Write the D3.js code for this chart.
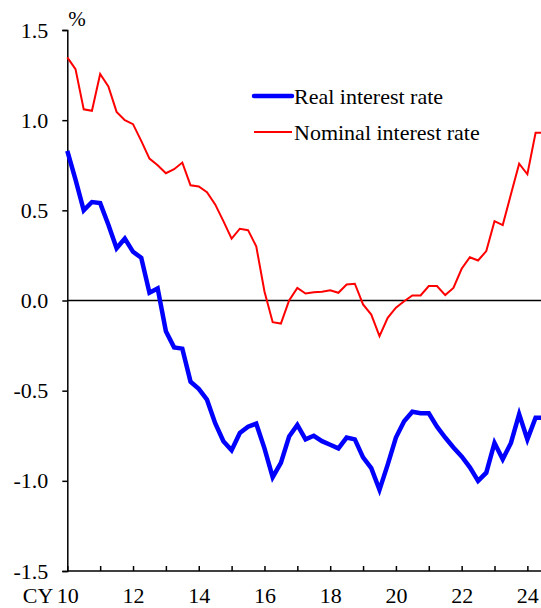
<!DOCTYPE html>
<html>
<head>
<meta charset="utf-8">
<script src="https://cdn.jsdelivr.net/npm/d3@7"></script>
<style>
  body { margin: 0; background: #fff; }
  svg { display: block; font-family: 'Liberation Serif', 'Times New Roman', serif; }
</style>
</head>
<body>
<script>
// quarterly values, CY2010 Q1 onwards
var realRate = [0.83, 0.67, 0.50, 0.546, 0.54, 0.42, 0.29, 0.344, 0.27, 0.237,
    0.043, 0.067, -0.17, -0.26, -0.267, -0.45, -0.49, -0.55, -0.68, -0.78,
    -0.83, -0.735, -0.70, -0.683, -0.82, -0.98, -0.90, -0.754, -0.69, -0.77,
    -0.75, -0.78, -0.80, -0.82, -0.76, -0.77, -0.87, -0.93, -1.05, -0.91,
    -0.76, -0.67, -0.617, -0.625, -0.625, -0.70, -0.76, -0.815, -0.865, -0.925,
    -1.0, -0.955, -0.79, -0.88, -0.79, -0.63, -0.77, -0.65, -0.65];
var nominalRate = [1.348, 1.283, 1.06, 1.052, 1.256, 1.187, 1.046, 1.0, 0.978, 0.885,
    0.787, 0.75, 0.706, 0.728, 0.765, 0.639, 0.632, 0.60, 0.533, 0.44,
    0.343, 0.398, 0.39, 0.30, 0.05, -0.12, -0.128, 0.0, 0.07, 0.039,
    0.046, 0.048, 0.057, 0.043, 0.089, 0.093, -0.022, -0.078, -0.198, -0.096,
    -0.04, -0.004, 0.028, 0.028, 0.08, 0.08, 0.03, 0.07, 0.176, 0.24,
    0.222, 0.274, 0.44, 0.418, 0.589, 0.759, 0.70, 0.93, 0.93];
var yTicks = [-1.5, -1.0, -0.5, 0.0, 0.5, 1.0, 1.5];
var xLabels = [10, 12, 14, 16, 18, 20, 22, 24];
var series = [
    { name: 'Real interest rate', values: realRate, color: '#0000ff', width: 4.5 },
    { name: 'Nominal interest rate', values: nominalRate, color: '#ff0000', width: 2 }
];

var width = 541,
    height = 608,
    fontSize = 22;

var x = d3.scaleLinear().domain([10, 24.5]).range([67.3, 543.8]);
var y = d3.scaleLinear().domain([-1.5, 1.5]).range([571, 30]);

var svg = d3.select('body').append('svg')
    .attr('width', width)
    .attr('height', height);

// y axis
var yAxis = svg.append('g')
    .attr('transform', 'translate(' + x(10) + ',0)')
    .call(d3.axisLeft(y).tickValues(yTicks).tickSize(5).tickPadding(14)
        .tickFormat(function (d) { return d3.format('.1f')(d).replace('−', '-'); }));

// x axis, ticks every year pointing up
var xAxis = svg.append('g')
    .attr('transform', 'translate(0,' + y(-1.5) + ')')
    .call(d3.axisBottom(x).tickValues(d3.range(10, 25, 1)).tickSize(-5).tickPadding(0)
        .tickFormat(function (d) { return xLabels.indexOf(d) >= 0 ? d : ''; }));

xAxis.selectAll('text').attr('y', 31.5).attr('dy', 0);

[yAxis, xAxis].forEach(function (ax) {
    ax.select('.domain').attr('stroke', '#000').attr('stroke-width', 1.5);
    ax.selectAll('.tick line').attr('stroke', '#000').attr('stroke-width', 1.5);
    ax.selectAll('text')
        .attr('fill', '#000')
        .style('font-family', "'Liberation Serif', 'Times New Roman', serif")
        .style('font-size', fontSize + 'px');
});
xAxis.select('.domain').attr('d', 'M' + x(10) + ',0H' + width);

svg.append('text')
    .attr('x', x(10) - 14)
    .attr('y', y(-1.5) + 31.5)
    .attr('text-anchor', 'end')
    .style('font-size', fontSize + 'px')
    .text('CY');

svg.append('text')
    .attr('x', x(10) + 1)
    .attr('y', 26)
    .style('font-size', '21px')
    .text('%');

// zero line
svg.append('line')
    .attr('x1', x(10)).attr('x2', width)
    .attr('y1', y(0)).attr('y2', y(0))
    .attr('stroke', '#000')
    .attr('stroke-width', 1.5);

var line = d3.line()
    .x(function (d, i) { return x(10 + i / 4); })
    .y(function (d) { return y(d); });

svg.selectAll('path.series')
    .data(series.slice().reverse())
    .enter().append('path')
    .attr('class', 'series')
    .attr('d', function (d) { return line(d.values); })
    .attr('fill', 'none')
    .attr('stroke', function (d) { return d.color; })
    .attr('stroke-width', function (d) { return d.width; })
    .attr('stroke-linejoin', 'miter');

// legend
var legend = svg.selectAll('g.legend')
    .data(series)
    .enter().append('g')
    .attr('class', 'legend')
    .attr('transform', function (d, i) { return 'translate(254,' + (96 + i * 36) + ')'; });

legend.append('line')
    .attr('x1', 0).attr('x2', 38)
    .attr('stroke', function (d) { return d.color; })
    .attr('stroke-width', function (d) { return d.width; })
    .attr('stroke-linecap', function (d, i) { return i === 0 ? 'round' : 'butt'; });

legend.append('text')
    .attr('x', 40)
    .attr('y', 7.5)
    .style('font-size', fontSize + 'px')
    .text(function (d) { return d.name; });
</script>
</body>
</html>
